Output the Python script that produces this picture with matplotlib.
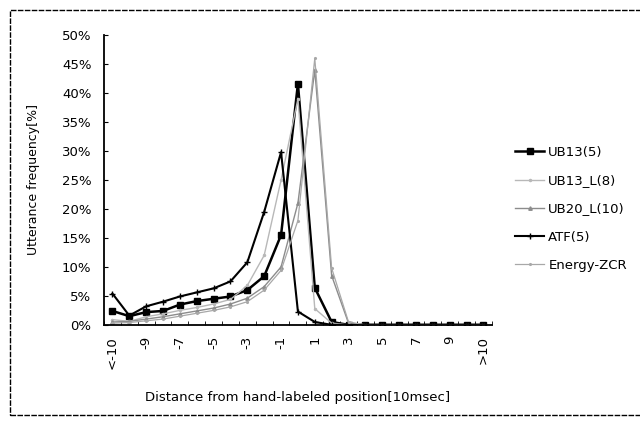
import matplotlib
matplotlib.use('Agg')
import matplotlib.pyplot as plt
from matplotlib.patches import Rectangle

# categories: <-10, -10 .. 10, >10
cats = ['<-10'] + [str(i) for i in range(-10, 11)] + ['>10']
shown = ['<-10', '-9', '-7', '-5', '-3', '-1', '1', '3', '5', '7', '9', '>10']

ub13 = [2.4, 1.5, 2.2, 2.4, 3.5, 4.1, 4.5, 4.9, 6.0, 8.4, 15.5, 41.6, 6.4, 0.5,
        0, 0, 0, 0, 0, 0, 0, 0, 0]
ub13_l = [0.9, 0.6, 1.4, 1.9, 2.5, 3.0, 3.6, 4.4, 6.8, 12.0, 25.0, 39.0, 2.8, 0.3,
          0, 0, 0, 0, 0, 0, 0, 0, 0]
ub20_l = [0.5, 0.6, 1.0, 1.4, 1.9, 2.4, 2.9, 3.6, 4.6, 6.6, 10.0, 21.0, 44.0, 8.5, 0.3,
          0, 0, 0, 0, 0, 0, 0, 0]
atf = [5.4, 1.6, 3.2, 4.0, 4.9, 5.6, 6.3, 7.5, 10.8, 19.5, 29.8, 2.3, 0.5, 0,
       0, 0, 0, 0, 0, 0, 0, 0, 0]
energy = [0.3, 0.4, 0.7, 1.0, 1.5, 2.0, 2.5, 3.1, 4.0, 6.0, 9.4, 18.0, 46.0, 9.8, 0.5,
          0, 0, 0, 0, 0, 0, 0, 0]

fig = plt.figure(figsize=(6.4, 4.23), dpi=100)
ax = fig.add_axes([0.1625, 0.232, 0.606, 0.685])
x = list(range(len(cats)))

ax.plot(x, ub13, color='black', lw=1.8, marker='s', ms=4.5, label='UB13(5)')
ax.plot(x, ub13_l, color='#b8b8b8', lw=1.0, marker='.', ms=3, label='UB13_L(8)')
ax.plot(x, ub20_l, color='#8c8c8c', lw=1.0, marker='^', ms=2.5, label='UB20_L(10)')
ax.plot(x, atf, color='black', lw=1.5, marker='+', ms=4, label='ATF(5)')
ax.plot(x, energy, color='#a8a8a8', lw=0.9, marker='.', ms=2.5, label='Energy-ZCR')

ax.set_xlim(-0.5, len(cats) - 0.5)
ax.set_ylim(0, 50)
ax.set_yticks(range(0, 51, 5))
ax.set_yticklabels([str(v) + '%' for v in range(0, 51, 5)], fontsize=9.5)
ax.set_xticks([i for i in x if cats[i] in shown])
ax.set_xticklabels([c for c in cats if c in shown], rotation=90, fontsize=9.5)
ax.set_xticks([i + 0.5 for i in range(-1, len(cats))], minor=True)
ax.tick_params(axis='x', which='major', length=0, pad=8)
ax.tick_params(axis='x', which='minor', direction='in', length=3)
ax.tick_params(axis='y', direction='in', length=3, pad=9)
for s in ['top', 'right']:
    ax.spines[s].set_visible(False)
ax.spines['left'].set_linewidth(1.3)
ax.spines['bottom'].set_linewidth(1.3)

ax.set_ylabel('Utterance frequency[%]', fontsize=9, labelpad=16)
ax.set_xlabel('Distance from hand-labeled position[10msec]', fontsize=9.5, labelpad=16)

ax.legend(loc='center left', bbox_to_anchor=(1.03, 0.40), frameon=False, fontsize=9.5,
          handlelength=2.2, labelspacing=1.15, handletextpad=0.3)

fig.patches.append(Rectangle((0.016, 0.02), 1.2, 0.957, transform=fig.transFigure,
                             fill=False, lw=1, ec='black', ls=(0, (4, 1))))

fig.savefig('out.png', dpi=100)
